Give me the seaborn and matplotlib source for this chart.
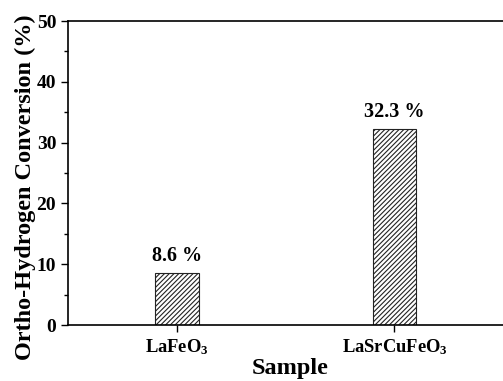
import matplotlib
matplotlib.use("Agg")
import matplotlib.pyplot as plt
from matplotlib.ticker import MultipleLocator
import pandas as pd
import seaborn as sns

# values
samples = ['LaFeO$_\\mathregular{3}$', 'LaSrCuFeO$_\\mathregular{3}$']
conversion = [8.6, 32.3]
bar_labels = ['8.6 %', '32.3 %']

sns.set_theme(style="ticks")
plt.rcParams['font.family'] = ['Liberation Serif', 'DejaVu Serif']
plt.rcParams['font.weight'] = 'bold'
plt.rcParams['text.color'] = 'black'
plt.rcParams['axes.labelcolor'] = 'black'
plt.rcParams['mathtext.default'] = 'regular'
plt.rcParams['hatch.color'] = '#444444'
plt.rcParams['hatch.linewidth'] = 0.8

df = pd.DataFrame({'Sample': samples, 'Conversion': conversion})

fig = plt.figure(figsize=(5.03, 3.81), dpi=100)
ax = fig.add_axes([68 / 503, 56 / 381, 445 / 503, 304 / 381])

sns.barplot(data=df, x='Sample', y='Conversion', color='white', width=0.2,
            edgecolor='#222222', linewidth=0.8, hatch='///////', ax=ax)

for c in ax.containers:
    ax.bar_label(c, labels=bar_labels, padding=5, fontsize=14.5,
                 fontweight='bold', color='black')

ax.set_xlim(-0.5, 1.545)
ax.set_ylim(0, 50)
ax.yaxis.set_major_locator(MultipleLocator(10))
ax.yaxis.set_minor_locator(MultipleLocator(5))
ax.tick_params(axis='both', which='major', direction='out', length=5, width=1,
               labelsize=14, colors='black')
ax.tick_params(axis='x', labelsize=13.3)
ax.tick_params(axis='y', which='minor', direction='out', length=3, width=1,
               colors='black')
for lab in ax.get_xticklabels() + ax.get_yticklabels():
    lab.set_fontweight('bold')

for s in ['left', 'bottom', 'top']:
    ax.spines[s].set_linewidth(1.2)
    ax.spines[s].set_color('black')
ax.spines['right'].set_visible(False)

ax.set_xlabel('Sample', fontsize=17.5, fontweight='bold', labelpad=1)
ax.set_ylabel('Ortho-Hydrogen Conversion (%)', fontsize=17.5, fontweight='bold')
ax.yaxis.set_label_coords(-0.072, 0.452)

fig.savefig('out.png', dpi=100)
